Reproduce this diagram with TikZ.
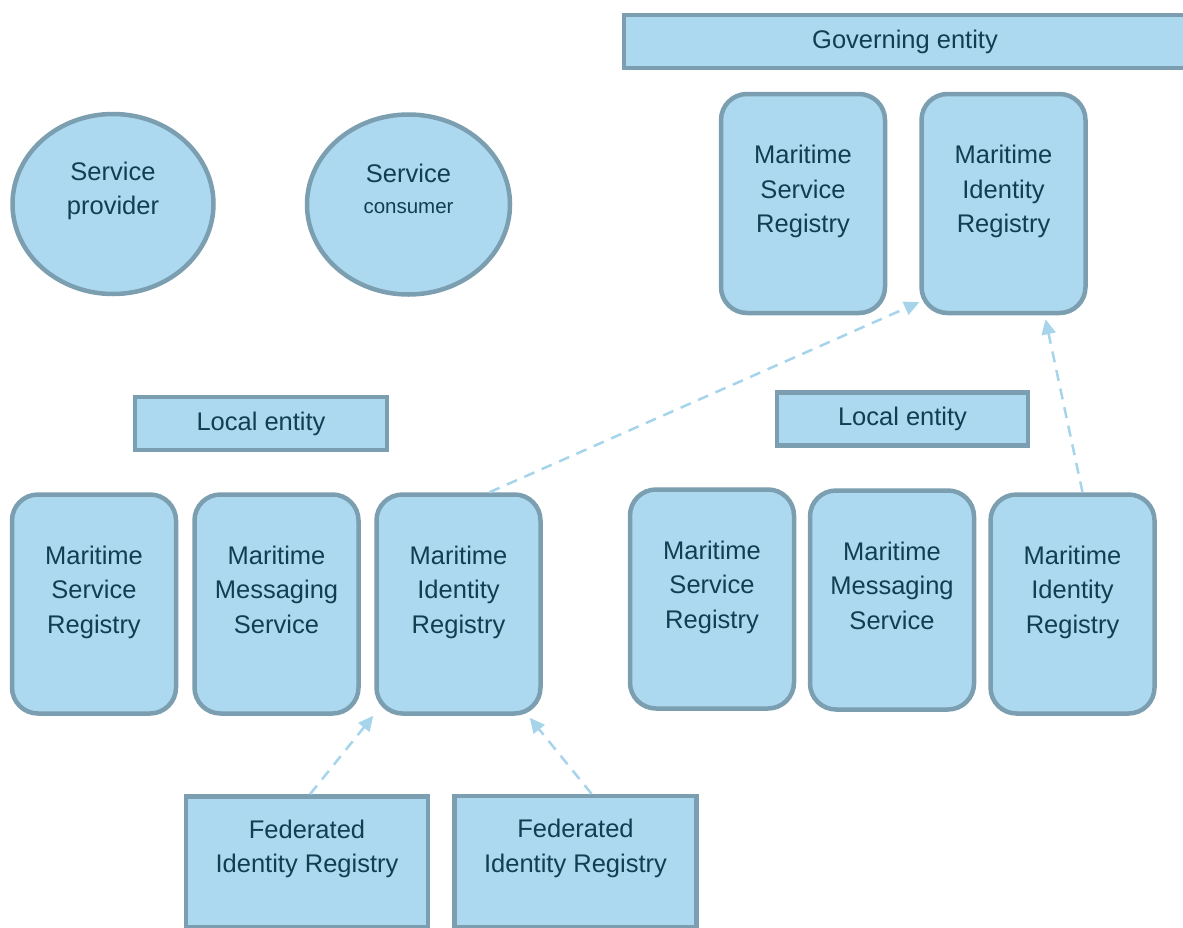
\documentclass[tikz,border=0pt]{standalone}
\usepackage{fontspec}
\setmainfont{Liberation Sans}
\definecolor{mcpfill}{HTML}{ADD9F0}
\definecolor{mcpline}{HTML}{7B9EB0}
\definecolor{mcptext}{HTML}{123E52}
\definecolor{mcparrow}{HTML}{A6D4EB}
\usetikzlibrary{shapes.geometric,arrows.meta,positioning,calc}

\begin{document}
\begin{tikzpicture}[x=1pt, y=-1pt,
  base/.style={draw=mcpline, fill=mcpfill, line width=4.5pt, text=mcptext,
    align=center, font=\fontsize{25.5}{34.5}\selectfont, inner sep=0pt},
  sbox/.style={base, rectangle, minimum width=#1, minimum height=53pt},
  rbox/.style={base, rectangle, rounded corners=26pt, minimum width=164pt,
    minimum height=219pt, text depth=29pt},
  ebox/.style={base, ellipse, minimum width=201pt, minimum height=180pt,
    text depth=31pt},
  fbox/.style={base, rectangle, minimum width=242pt, minimum height=131pt,
    text depth=32pt},
  arr/.style={-{Triangle[length=15pt,width=14pt]}, draw=mcparrow,
    line width=2.5pt, dash pattern=on 11pt off 8pt}
]
  \useasboundingbox (0,0) rectangle (1183,927);

  % Governing entity
  \node[sbox=562pt] (gov) at (905,41.5) {Governing entity};
  \node[rbox] (gmsr) at (803,203.5) {Maritime\\Service\\Registry};
  \node[rbox] (gmir) at (1003.5,203.5) {Maritime\\Identity\\Registry};

  % Actors
  \node[ebox] (provider) at (113,204) {Service\\provider};
  \node[ebox, minimum width=203pt] (consumer) at (408.5,204.5)
    {Service\\[-4pt]{\fontsize{20.5}{24}\selectfont consumer}};

  % Local entity, left
  \node[sbox=252pt] (llocal) at (261,423.5) {Local entity};
  \node[rbox] (lmsr) at (94,604) {Maritime\\Service\\Registry};
  \node[rbox] (lmms) at (276.5,604) {Maritime\\Messaging\\Service};
  \node[rbox] (lmir) at (458.5,604) {Maritime\\Identity\\Registry};

  % Local entity, right
  \node[sbox=251pt] (rlocal) at (902.5,419) {Local entity};
  \node[rbox] (rmsr) at (712,599) {Maritime\\Service\\Registry};
  \node[rbox] (rmms) at (892,600) {Maritime\\Messaging\\Service};
  \node[rbox] (rmir) at (1072.5,604) {Maritime\\Identity\\Registry};

  % Federated registries
  \node[fbox] (fed1) at (307,862) {Federated\\Identity Registry};
  \node[fbox] (fed2) at (575.5,861.5) {Federated\\Identity Registry};

  % Arrows
  \draw[arr] ([xshift=31pt]lmir.north) -- ([yshift=13pt]gmir.south west);
  \draw[arr] ([xshift=10pt]rmir.north) -- ([xshift=42pt,yshift=-4pt]gmir.south);
  \draw[arr] ([xshift=3pt]fed1.north) -- ([xshift=-1pt]lmir.south west);
  \draw[arr] ([xshift=16pt]fed2.north) -- ([xshift=-13pt,yshift=-2pt]lmir.south east);
\end{tikzpicture}
\end{document}
